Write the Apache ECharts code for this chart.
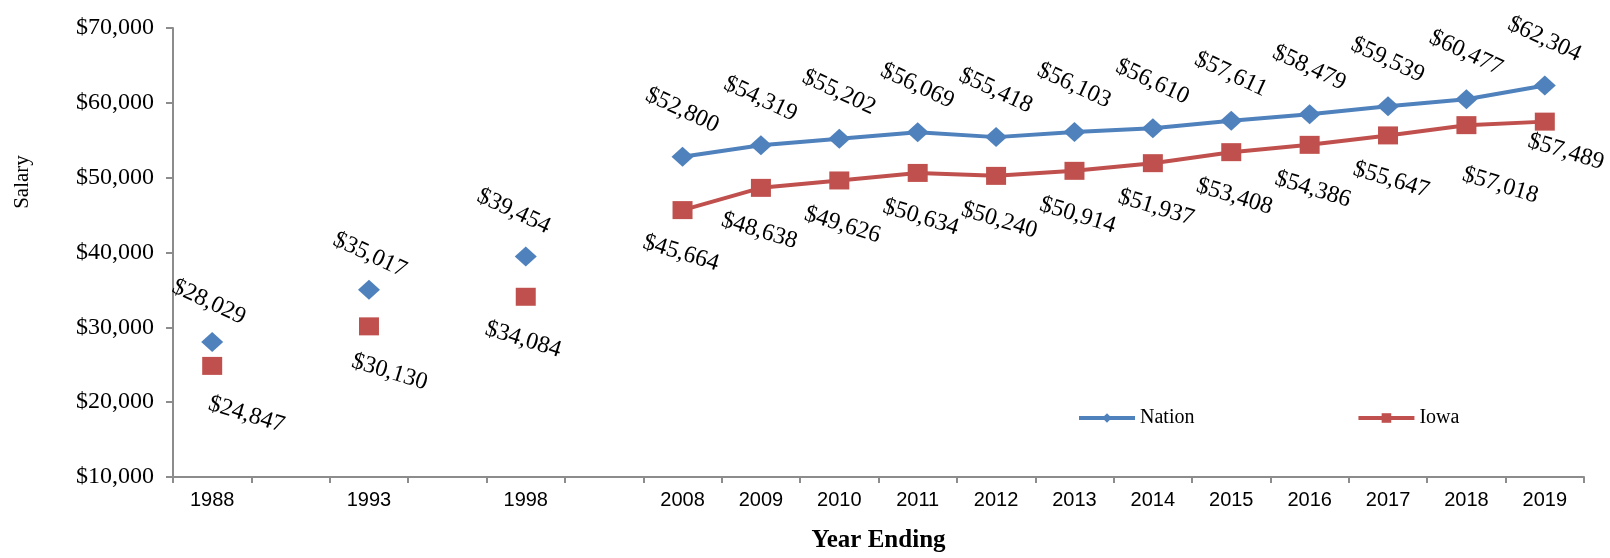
<!DOCTYPE html>
<html>
<head>
<meta charset="utf-8">
<script src="https://cdn.jsdelivr.net/npm/echarts@6/dist/echarts.min.js"></script>
<style>
html,body{margin:0;padding:0;background:#fff;}
#c{width:1610px;height:558px;}
</style>
</head>
<body>
<div id="c"></div>
<script>
var years = ['1988', '', '1993', '', '1998', '', '2008', '2009', '2010', '2011', '2012', '2013', '2014', '2015', '2016', '2017', '2018', '2019'];
var nation = [28029, null, 35017, null, 39454, null, 52800, 54319, 55202, 56069, 55418, 56103, 56610, 57611, 58479, 59539, 60477, 62304];
var iowa = [24847, null, 30130, null, 34084, null, 45664, 48638, 49626, 50634, 50240, 50914, 51937, 53408, 54386, 55647, 57018, 57489];
var yTicks = [10000, 20000, 30000, 40000, 50000, 60000, 70000];

// label nudges (style only, by category index)
var nationLabelNudge = { 0: [0, 7], 2: [6, 10], 4: [-10, 6] };
var iowaLabelNudge = { 0: [31, -5], 2: [17, -4], 4: [-6, 0], 6: [-5, 0], 7: [-5, 0], 16: [34, 6], 17: [13, -19] };

function money(v) {
  return '$' + String(v).replace(/\B(?=(\d{3})+(?!\d))/g, ',');
}

function withNudges(values, nudges, base) {
  return values.map(function (v, i) {
    if (v == null) return null;
    var n = nudges[i];
    if (!n) return v;
    return { value: v, label: { offset: [base[0] + n[0], base[1] + n[1]] } };
  });
}

var chart = echarts.init(document.getElementById('c'));
var serif = '"Liberation Serif", "Times New Roman", serif';
var axisColor = '#8c8c8c';
var nationBase = [-6, 0];
var iowaBase = [7, 0];

chart.setOption({
  animation: false,
  backgroundColor: '#ffffff',
  grid: { left: 173, right: 26, top: 28, bottom: 71, containLabel: false },
  legend: {
    left: 1072, top: 403,
    itemWidth: 56, itemHeight: 12, itemGap: 162,
    lineStyle: { width: 4 },
    textStyle: { fontFamily: serif, fontSize: 20, color: '#000' },
    data: ['Nation', 'Iowa']
  },
  xAxis: {
    type: 'category',
    data: years,
    boundaryGap: true,
    name: 'Year Ending',
    nameLocation: 'middle',
    nameGap: 51,
    nameTextStyle: { fontFamily: serif, fontSize: 25, fontWeight: 'bold', color: '#000' },
    axisLine: { lineStyle: { color: axisColor, width: 2 } },
    axisTick: { show: true, length: 6, interval: 0, lineStyle: { color: axisColor, width: 2 } },
    axisLabel: { interval: 0, margin: 13, fontFamily: '"Liberation Sans", Arial, sans-serif', fontSize: 20, color: '#000' },
    splitLine: { show: false }
  },
  yAxis: {
    type: 'value',
    min: yTicks[0], max: yTicks[yTicks.length - 1], interval: 10000,
    axisLine: { show: true, lineStyle: { color: axisColor, width: 2 } },
    axisTick: { show: true, length: 7, lineStyle: { color: axisColor, width: 2 } },
    axisLabel: { margin: 19, fontFamily: serif, fontSize: 24, color: '#000', formatter: function (v) { return money(v); } },
    splitLine: { show: false }
  },
  graphic: [
    { type: 'text', x: 22, y: 182, rotation: Math.PI / 2, style: { text: 'Salary', fontFamily: serif, fontSize: 21, fill: '#000', align: 'center', verticalAlign: 'middle' } }
  ],
  series: [
    {
      name: 'Nation',
      type: 'line',
      data: withNudges(nation, nationLabelNudge, nationBase),
      connectNulls: false,
      symbol: 'diamond',
      symbolSize: [22, 20],
      lineStyle: { color: '#4F81BD', width: 4 },
      itemStyle: { color: '#4F81BD' },
      label: {
        show: true, position: 'top', distance: 23, rotate: -25, offset: nationBase,
        fontFamily: serif, fontSize: 24, color: '#000',
        formatter: function (p) { return money(p.value); }
      }
    },
    {
      name: 'Iowa',
      type: 'line',
      data: withNudges(iowa, iowaLabelNudge, iowaBase),
      connectNulls: false,
      symbol: 'rect',
      symbolSize: [20, 18],
      lineStyle: { color: '#C0504D', width: 4 },
      itemStyle: { color: '#C0504D' },
      label: {
        show: true, position: 'bottom', distance: 22, rotate: -17, offset: iowaBase,
        fontFamily: serif, fontSize: 24, color: '#000',
        formatter: function (p) { return money(p.value); }
      }
    }
  ]
});
</script>
</body>
</html>
